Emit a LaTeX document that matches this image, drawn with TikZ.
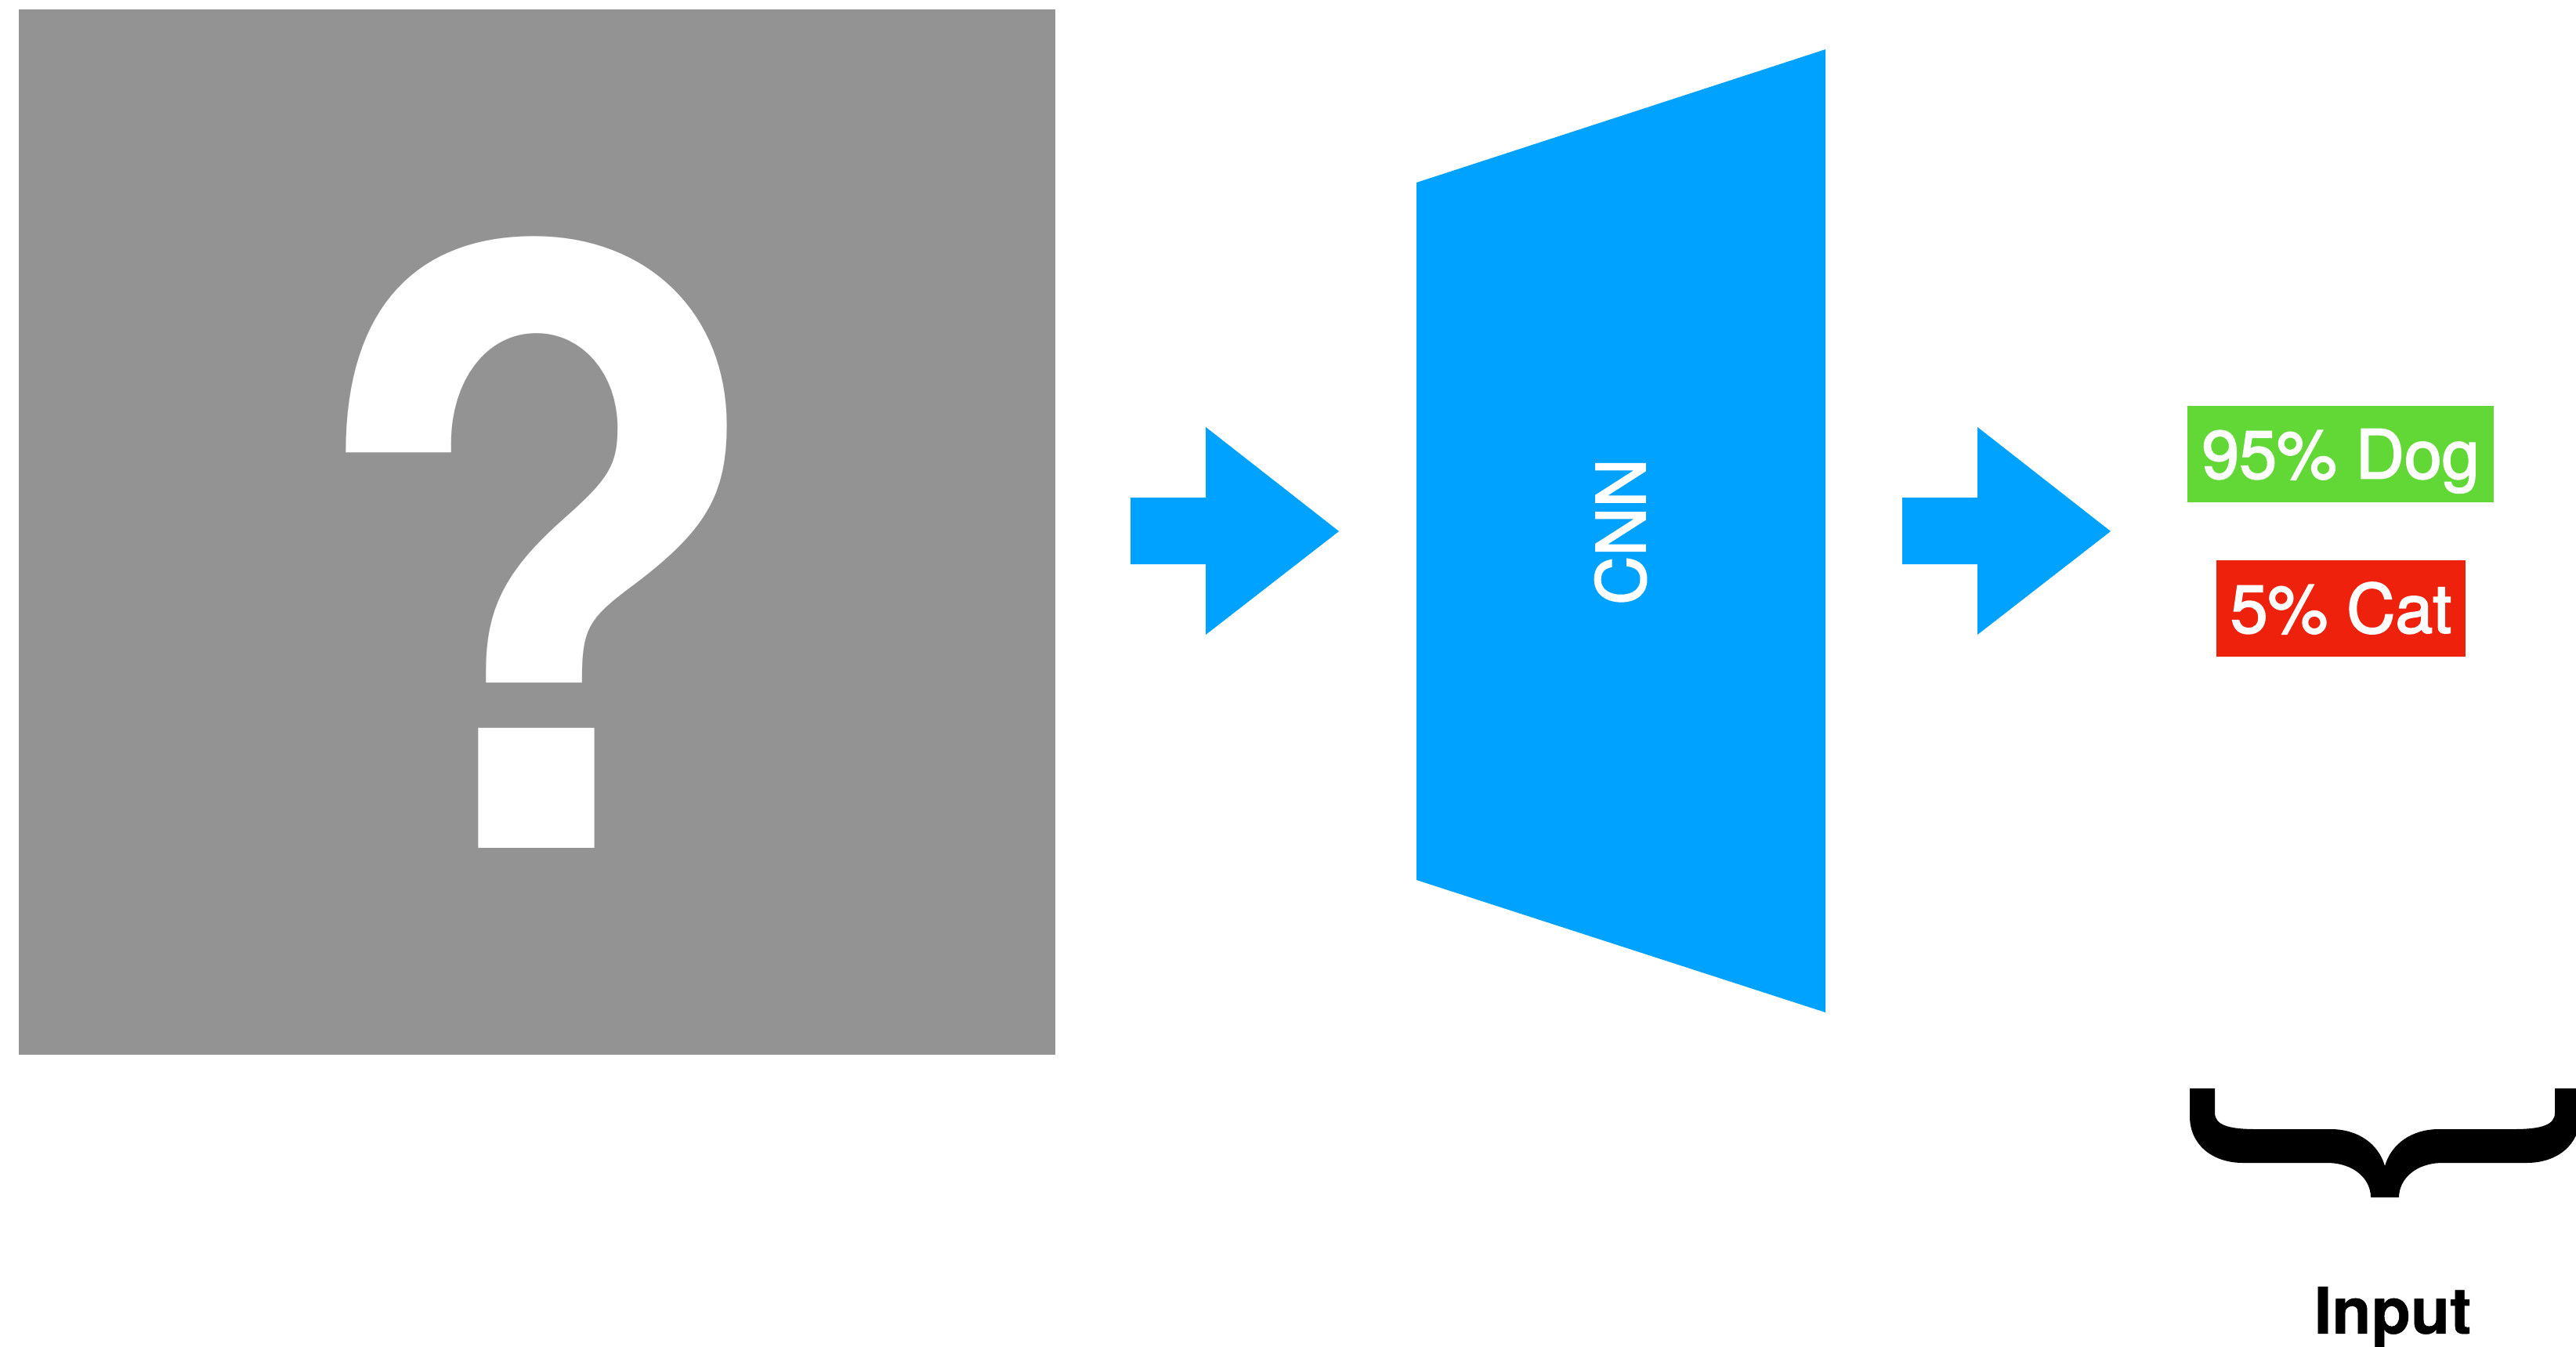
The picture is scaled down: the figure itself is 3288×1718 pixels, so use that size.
\documentclass[tikz,border=0pt]{standalone}
\usepackage{fontspec}
\usepackage{graphicx}
\setmainfont{TeX Gyre Heros}
\newfontfamily\labelfont{TeX Gyre Heros}[FakeBold=2.2]
\newfontfamily\captionfont{TeX Gyre Heros Bold}[FakeBold=0.6]
\newfontfamily\markfont{TeX Gyre Heros Bold}
\definecolor{imggray}{HTML}{939393}
\definecolor{netblue}{HTML}{00A2FF}
\definecolor{okgreen}{HTML}{61D836}
\definecolor{badred}{HTML}{EE220C}
\tikzset{
  lbltext/.style={font=\labelfont\fontsize{24.5pt}{24.5pt}\selectfont, text=white,
    text height=17.6pt, text depth=0pt, inner sep=0pt},
  scorebox/.style={lbltext, minimum height=1.23cm},
  blockarrow/.style={fill=netblue},
}
\begin{document}
\begin{tikzpicture}[x=0.01cm, y=-0.01cm]
  \clip (0,0) rectangle (3288,1718);
  \fill[white] (0,0) rectangle (3288,1718);

  % unknown input image
  \node[fill=imggray, minimum width=13.23cm, minimum height=13.34cm,
        inner sep=0pt, anchor=north west] (img) at (23,11) {};
  \node[text=white, inner sep=0pt, anchor=base] (qmark) at (684,1082)
        {\scalebox{0.942}[1]{\resizebox{!}{7.8cm}{\markfont ?}}};

  % arrow into the network
  \fill[blockarrow] (1443,635) -- (1539,635) -- (1539,545) -- (1709,678)
    -- (1539,810) -- (1539,720) -- (1443,720) -- cycle;

  % the network
  \coordinate (tl) at (1808,233);
  \coordinate (tr) at (2330,63);
  \coordinate (br) at (2330,1292);
  \coordinate (bl) at (1808,1123);
  \fill[netblue] (tl) -- (tr) -- (br) -- (bl) -- cycle;
  \node[lbltext, rotate=90] (cnn) at (2069,678.5) {CNN};

  % arrow out of the network
  \fill[blockarrow] (2428,635) -- (2524,635) -- (2524,545) -- (2694,678)
    -- (2524,810) -- (2524,720) -- (2428,720) -- cycle;

  % class scores
  \node[scorebox, fill=okgreen, minimum width=3.91cm] (dog) at (2987.5,579.5) {95\% Dog};
  \node[scorebox, fill=badred, minimum width=3.18cm] (cat) at (2988,776.5) {5\% Cat};

  % brace and caption
  \fill[black] (2795,1389) -- (2827,1389) -- (2827,1420)
    .. controls (2827,1436) and (2845,1441) .. (2880,1441)
    -- (2975,1441)
    .. controls (3010,1441) and (3036,1460) .. (3044,1488)
    .. controls (3052,1460) and (3078,1441) .. (3113,1441)
    -- (3208,1441)
    .. controls (3243,1441) and (3261,1436) .. (3261,1420)
    -- (3261,1389) -- (3293,1389) -- (3293,1425)
    .. controls (3293,1460) and (3265,1484) .. (3225,1484)
    -- (3118,1484)
    .. controls (3083,1484) and (3062,1505) .. (3062,1528)
    -- (3026,1528)
    .. controls (3026,1505) and (3005,1484) .. (2970,1484)
    -- (2863,1484)
    .. controls (2823,1484) and (2795,1460) .. (2795,1425)
    -- cycle;
  \node[font=\captionfont\fontsize{23.3pt}{23.3pt}\selectfont, text=black,
        text height=16.7pt, text depth=0pt, inner sep=0pt] (inp) at (3054,1672.5) {Input};
\end{tikzpicture}
\end{document}
